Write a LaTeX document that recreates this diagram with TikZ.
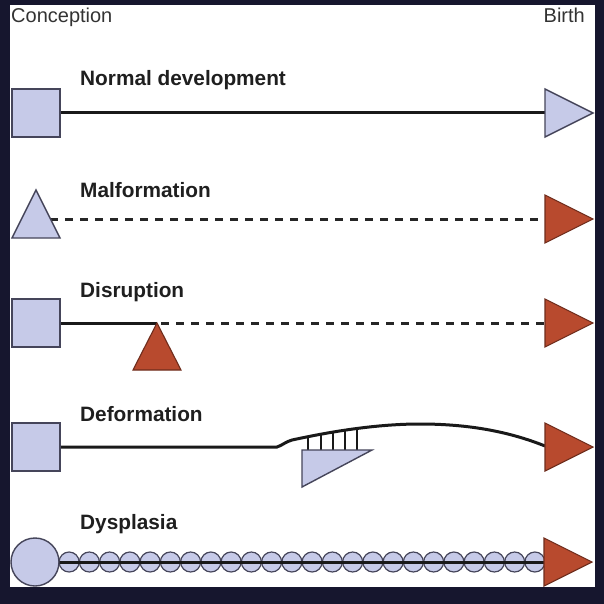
\documentclass[tikz,border=0pt]{standalone}
\usepackage{fontspec}
\setmainfont{Liberation Sans}
\definecolor{bgnavy}{HTML}{16162E}
\definecolor{lav}{HTML}{C6CAE8}
\definecolor{brick}{HTML}{B84A2E}
\definecolor{edge}{HTML}{45455A}
\tikzset{
  blueshape/.style={fill=lav, draw=edge, line width=1.4pt},
  redshape/.style={fill=brick, draw=brick!60!black, line width=1.1pt, line join=miter},
  mainline/.style={line width=3pt, black!90},
  dashline/.style={line width=3pt, black!85, dash pattern=on 8pt off 7pt},
  hatch/.style={line width=2.6pt, black!90},
  bead/.style={fill=lav, draw=edge, line width=1.2pt},
  title/.style={anchor=base west, font=\fontsize{20.8}{24}\selectfont\bfseries, text=black!88, inner sep=0pt},
  endlabel/.style={font=\fontsize{20}{24}\selectfont, text=black!80, inner sep=0pt},
}
\begin{document}
\begin{tikzpicture}[x=1pt,y=-1pt]
\useasboundingbox (0,0) rectangle (604,604);
\fill[bgnavy] (0,0) rectangle (604,604);
\fill[white] (10,5) rectangle (595,587);

% end labels
\node[endlabel, anchor=base west] (conc) at (11,23) {Conception};
\node[endlabel, anchor=base east] (birth) at (585,23) {Birth};

% ---- Row 1: Normal development
\coordinate (a1) at (60,113);
\coordinate (b1) at (545,113);
\draw[mainline] (a1) -- (b1);
\filldraw[blueshape] (12,89) rectangle (60,137);
\filldraw[blueshape] (545,89) -- (593,113) -- (545,137) -- cycle;
\node[title] (t1) at (80,86) {Normal development};

% ---- Row 2: Malformation
\coordinate (a2) at (50,219);
\coordinate (b2) at (545,219);
\draw[dashline] (a2) -- (b2);
\filldraw[blueshape] (12,238) -- (36,190) -- (60,238) -- cycle;
\filldraw[redshape] (545,195) -- (593,219) -- (545,243) -- cycle;
\node[title] (t2) at (80,197) {Malformation};

% ---- Row 3: Disruption
\coordinate (a3) at (60,323);
\coordinate (m3) at (157,323);
\coordinate (b3) at (545,323);
\draw[mainline] (a3) -- (m3);
\draw[dashline] (m3) ++(4,0) -- (b3);
\filldraw[blueshape] (12,299) rectangle (60,347);
\filldraw[redshape] (133,370) -- (157,323) -- (181,370) -- cycle;
\filldraw[redshape] (545,299) -- (593,323) -- (545,347) -- cycle;
\node[title] (t3) at (80,297) {Disruption};

% ---- Row 4: Deformation
\coordinate (a4) at (60,447);
\coordinate (k4) at (277,447);
\coordinate (b4) at (545,446);
\begin{scope}
  \clip (277,447) .. controls (283,445) and (285,442) .. (292,440) .. controls (320,434) and (370,424) .. (420,424) -- (420,470) -- (277,470) -- cycle;
  \foreach \x in {308,321,333,345,357} \draw[hatch] (\x,451) -- (\x,415);
\end{scope}
\draw[mainline] (a4) -- (k4) .. controls (283,445) and (285,442) .. (292,440) .. controls (320,434) and (370,424) .. (420,424)
  .. controls (470,424) and (510,432) .. (b4);
\filldraw[blueshape] (302,450) -- (372,450) -- (302,487) -- cycle;
\filldraw[blueshape] (12,423) rectangle (60,471);
\filldraw[redshape] (545,423) -- (593,447) -- (545,471) -- cycle;
\node[title] (t4) at (80,421) {Deformation};

% ---- Row 5: Dysplasia
\coordinate (a5) at (59,562);
\coordinate (b5) at (545,562);
\foreach \i in {0,...,23} \filldraw[bead] ({69.125+20.25*\i},562) circle (10);
\draw[line width=3pt, black!90] (a5) -- (b5);
\filldraw[blueshape] (35,562) circle (24);
\filldraw[redshape] (544,538) -- (592,562) -- (544,586) -- cycle;
\node[title] (t5) at (80,529) {Dysplasia};
\end{tikzpicture}
\end{document}
